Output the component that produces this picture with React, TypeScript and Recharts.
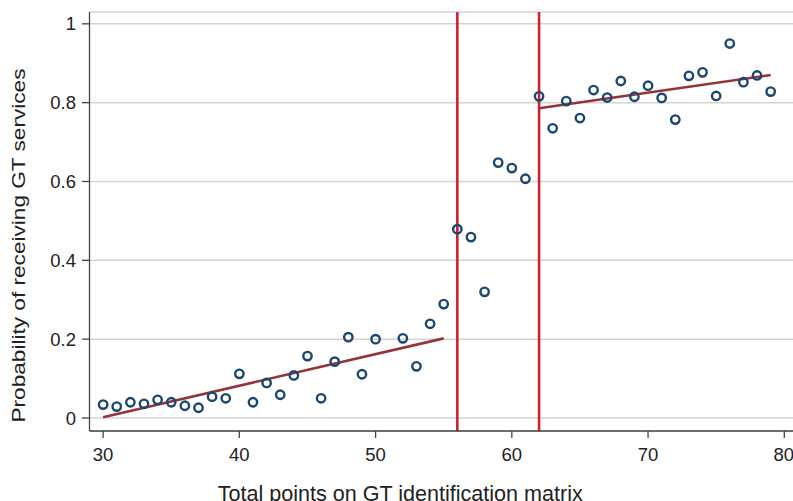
import React from "react";
import {
  ComposedChart,
  Scatter,
  Line,
  XAxis,
  YAxis,
  CartesianGrid,
  ReferenceLine,
  Label,
} from "recharts";

const scoreX = [
  30, 31, 32, 33, 34, 35, 36, 37, 38, 39, 40, 41, 42, 43, 44, 45, 46, 47, 48, 49, 50,
  52, 53, 54, 55, 56, 57, 58, 59, 60, 61, 62, 63, 64, 65, 66, 67, 68, 69, 70, 71, 72,
  73, 74, 75, 76, 77, 78, 79,
];
const probY = [
  0.034, 0.029, 0.04, 0.036, 0.046, 0.04, 0.031, 0.026, 0.054, 0.05, 0.112, 0.04, 0.089,
  0.059, 0.108, 0.157, 0.05, 0.143, 0.205, 0.111, 0.2,
  0.202, 0.131, 0.239, 0.289, 0.479, 0.459, 0.32, 0.648, 0.634, 0.607, 0.816, 0.735,
  0.804, 0.761, 0.832, 0.813, 0.855, 0.815, 0.843, 0.812, 0.757, 0.868, 0.877, 0.817,
  0.95, 0.852, 0.869, 0.828,
];

const leftFitX = [30, 55];
const leftFitY = [0.002, 0.202];
const rightFitX = [62, 79];
const rightFitY = [0.786, 0.87];

const cutoffs = [56, 62];
const xTicks = [30, 40, 50, 60, 70, 80];
const yTicks = [0, 0.2, 0.4, 0.6, 0.8, 1];

const xTitle = "Total points on GT identification matrix";
const yTitle = "Probability of receiving GT services";

const points = scoreX.map((x, i) => ({ x, y: probY[i] }));
const leftFit = leftFitX.map((x, i) => ({ x, y: leftFitY[i] }));
const rightFit = rightFitX.map((x, i) => ({ x, y: rightFitY[i] }));

const FONT = "'Liberation Sans', Arial, Helvetica, sans-serif";
const NAVY = "#1a476f";
const MAROON = "#953339";
const RED = "#cc2233";
const AXIS = "#444444";

const Ring = (props: any) => {
  const { cx, cy } = props;
  if (cx == null || cy == null) return null;
  return <circle cx={cx} cy={cy} r={4.2} fill="none" stroke={NAVY} strokeWidth={2.4} />;
};

const XTitle = (props: any) => {
  const vb = props.viewBox || { x: 0, y: 0, width: 0, height: 0 };
  const cx = vb.x + vb.width / 2 - 41;
  return (
    <text
      x={cx}
      y={vb.y + 69.5}
      textAnchor="middle"
      fontFamily={FONT}
      fontSize={21.4}
      fill="#222"
      textLength={365}
      lengthAdjust="spacingAndGlyphs"
    >
      {xTitle}
    </text>
  );
};

const YTitle = (props: any) => {
  const vb = props.viewBox || { x: 0, y: 0, width: 0, height: 0 };
  const x = 25;
  const y = vb.y + vb.height / 2 + 24;
  return (
    <text
      x={x}
      y={y}
      transform={`rotate(-90, ${x}, ${y})`}
      textAnchor="middle"
      fontFamily={FONT}
      fontSize={19}
      fill="#222"
      textLength={354}
      lengthAdjust="spacingAndGlyphs"
    >
      {yTitle}
    </text>
  );
};

export default function App() {
  return (
    <div style={{ position: "absolute", left: 0, top: 0, width: 793, height: 501, background: "#fff" }}>
      <ComposedChart
        width={793}
        height={501}
        margin={{ top: 12, right: 0, bottom: 0, left: 0 }}
        style={{ fontFamily: FONT }}
      >
        <CartesianGrid horizontal vertical={false} stroke="#d4d4d4" strokeWidth={1.5} />
        <XAxis
          type="number"
          dataKey="x"
          domain={[29, 80.64]}
          ticks={xTicks}
          allowDataOverflow
          height={70}
          tickSize={7}
          tickMargin={10}
          axisLine={{ stroke: AXIS, strokeWidth: 1.3 }}
          tickLine={{ stroke: AXIS, strokeWidth: 1.3 }}
          tick={{ fontSize: 18.5, fill: "#222", fontFamily: FONT }}
        >
          <Label content={<XTitle />} />
        </XAxis>
        <YAxis
          type="number"
          dataKey="y"
          domain={[-0.033, 1.03]}
          ticks={yTicks}
          allowDataOverflow
          width={89.5}
          tickSize={7.5}
          tickMargin={6}
          axisLine={{ stroke: AXIS, strokeWidth: 1.3 }}
          tickLine={{ stroke: AXIS, strokeWidth: 1.3 }}
          tick={{ fontSize: 18.5, fill: "#222", fontFamily: FONT }}
        >
          <Label content={<YTitle />} />
        </YAxis>
        {cutoffs.map((c) => (
          <ReferenceLine key={c} x={c} stroke={RED} strokeWidth={2.6} />
        ))}
        <Line
          data={leftFit}
          dataKey="y"
          type="linear"
          stroke={MAROON}
          strokeWidth={2.6}
          dot={false}
          activeDot={false}
          isAnimationActive={false}
        />
        <Line
          data={rightFit}
          dataKey="y"
          type="linear"
          stroke={MAROON}
          strokeWidth={2.6}
          dot={false}
          activeDot={false}
          isAnimationActive={false}
        />
        <Scatter data={points} dataKey="y" shape={<Ring />} isAnimationActive={false} />
      </ComposedChart>
    </div>
  );
}
